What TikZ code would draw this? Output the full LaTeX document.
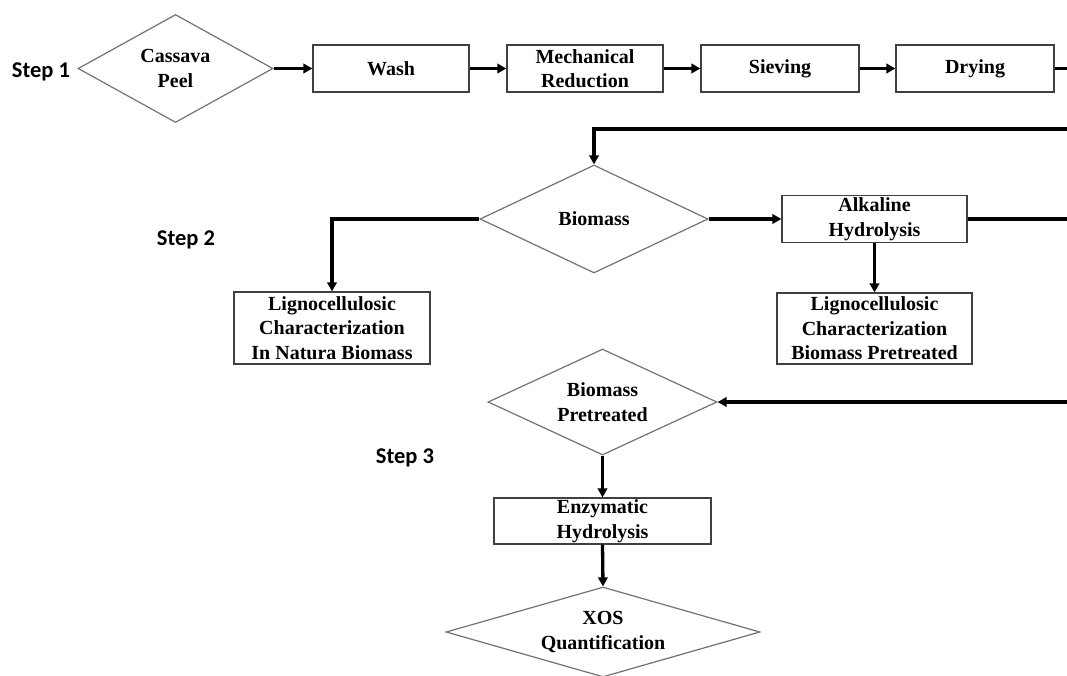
\documentclass[tikz,border=0pt]{standalone}
\usepackage{fontspec}
\setmainfont{Liberation Serif}
\newfontfamily\stepfont{Carlito}
\usetikzlibrary{shapes.geometric,arrows.meta}
\definecolor{boxline}{gray}{0.25}
\definecolor{diamline}{gray}{0.45}
\begin{document}
\begin{tikzpicture}[x=1pt,y=-1pt,
  every node/.style={font=\fontsize{20}{24.5}\selectfont\bfseries, align=center},
  procbox/.style={draw=boxline, line width=1.3pt, rectangle, inner sep=0pt, minimum width=#1},
  decision/.style={draw=diamline, line width=1.2pt, diamond, inner sep=0pt},
  steplabel/.style={font=\stepfont\fontsize{22.5}{26}\selectfont\bfseries},
  conn/.style={line width=3.3pt, black},
  arr/.style={conn, -{Triangle[length=9pt,width=9.5pt]}}
]
\useasboundingbox (0,0) rectangle (1067,675);
\fill[white] (0,0) rectangle (1067,675);

% Step labels
\node[steplabel] (s1) at (41,72) {Step 1};
\node[steplabel] (s2) at (186,240) {Step 2};
\node[steplabel] (s3) at (405,458) {Step 3};

% Step 1
\node[decision, minimum width=195pt, minimum height=108pt, aspect=1.8] (cas) at (175.5,68.5) {Cassava\\Peel};
\node[procbox=156pt, minimum height=47pt] (wash) at (391,68.5) {Wash};
\node[procbox=156pt, minimum height=47pt] (mech) at (585,68.5) {Mechanical\\Reduction};
\node[procbox=158pt, minimum height=47pt] (siev) at (780,68.5) {Sieving};
\node[procbox=158pt, minimum height=47pt] (dry) at (975,68.5) {Drying};
\coordinate (r1) at (1067,68.5);
\coordinate (r2) at (1067,129);

% Step 2
\node[decision, minimum width=228pt, minimum height=108pt, aspect=2.1] (bio) at (594,219) {Biomass};
\node[procbox=196pt, minimum height=72pt] (nat) at (332,328) {Lignocellulosic\\Characterization\\In Natura Biomass};
\node[procbox=185pt, minimum height=47pt] (alk) at (874.5,219) {Alkaline\\Hydrolysis};
\node[procbox=195pt, minimum height=71pt] (pre) at (874.5,328.5) {Lignocellulosic\\Characterization\\Biomass Pretreated};
\coordinate (r3) at (1067,219);

% Step 3
\node[decision, minimum width=229pt, minimum height=106pt, aspect=2.16] (bp) at (602.5,402) {Biomass\\Pretreated};
\coordinate (r4) at (1067,402);
\node[procbox=217pt, minimum height=46pt] (enz) at (602.5,521) {Enzymatic\\Hydrolysis};
\node[decision, minimum width=314pt, minimum height=90pt, aspect=3.49] (xos) at (603,632) {XOS\\Quantification};

% Connectors
\draw[arr] (cas.east) -- (wash.west);
\draw[arr] (wash.east) -- (mech.west);
\draw[arr] (mech.east) -- (siev.west);
\draw[arr] (siev.east) -- (dry.west);
\draw[conn] (dry.east) -- (r1);
\draw[arr] (r2) -| (bio.north);
\draw[arr] (bio.west) -| (nat.north);
\draw[arr] (bio.east) -- (alk.west);
\draw[conn] (alk.east) -- (r3);
\draw[arr] (alk.south) -- (pre.north);
\draw[arr] (r4) -- (bp.east);
\draw[arr] (bp.south) -- (enz.north);
\draw[arr] (enz.south) -- (xos.north);
\end{tikzpicture}
\end{document}
